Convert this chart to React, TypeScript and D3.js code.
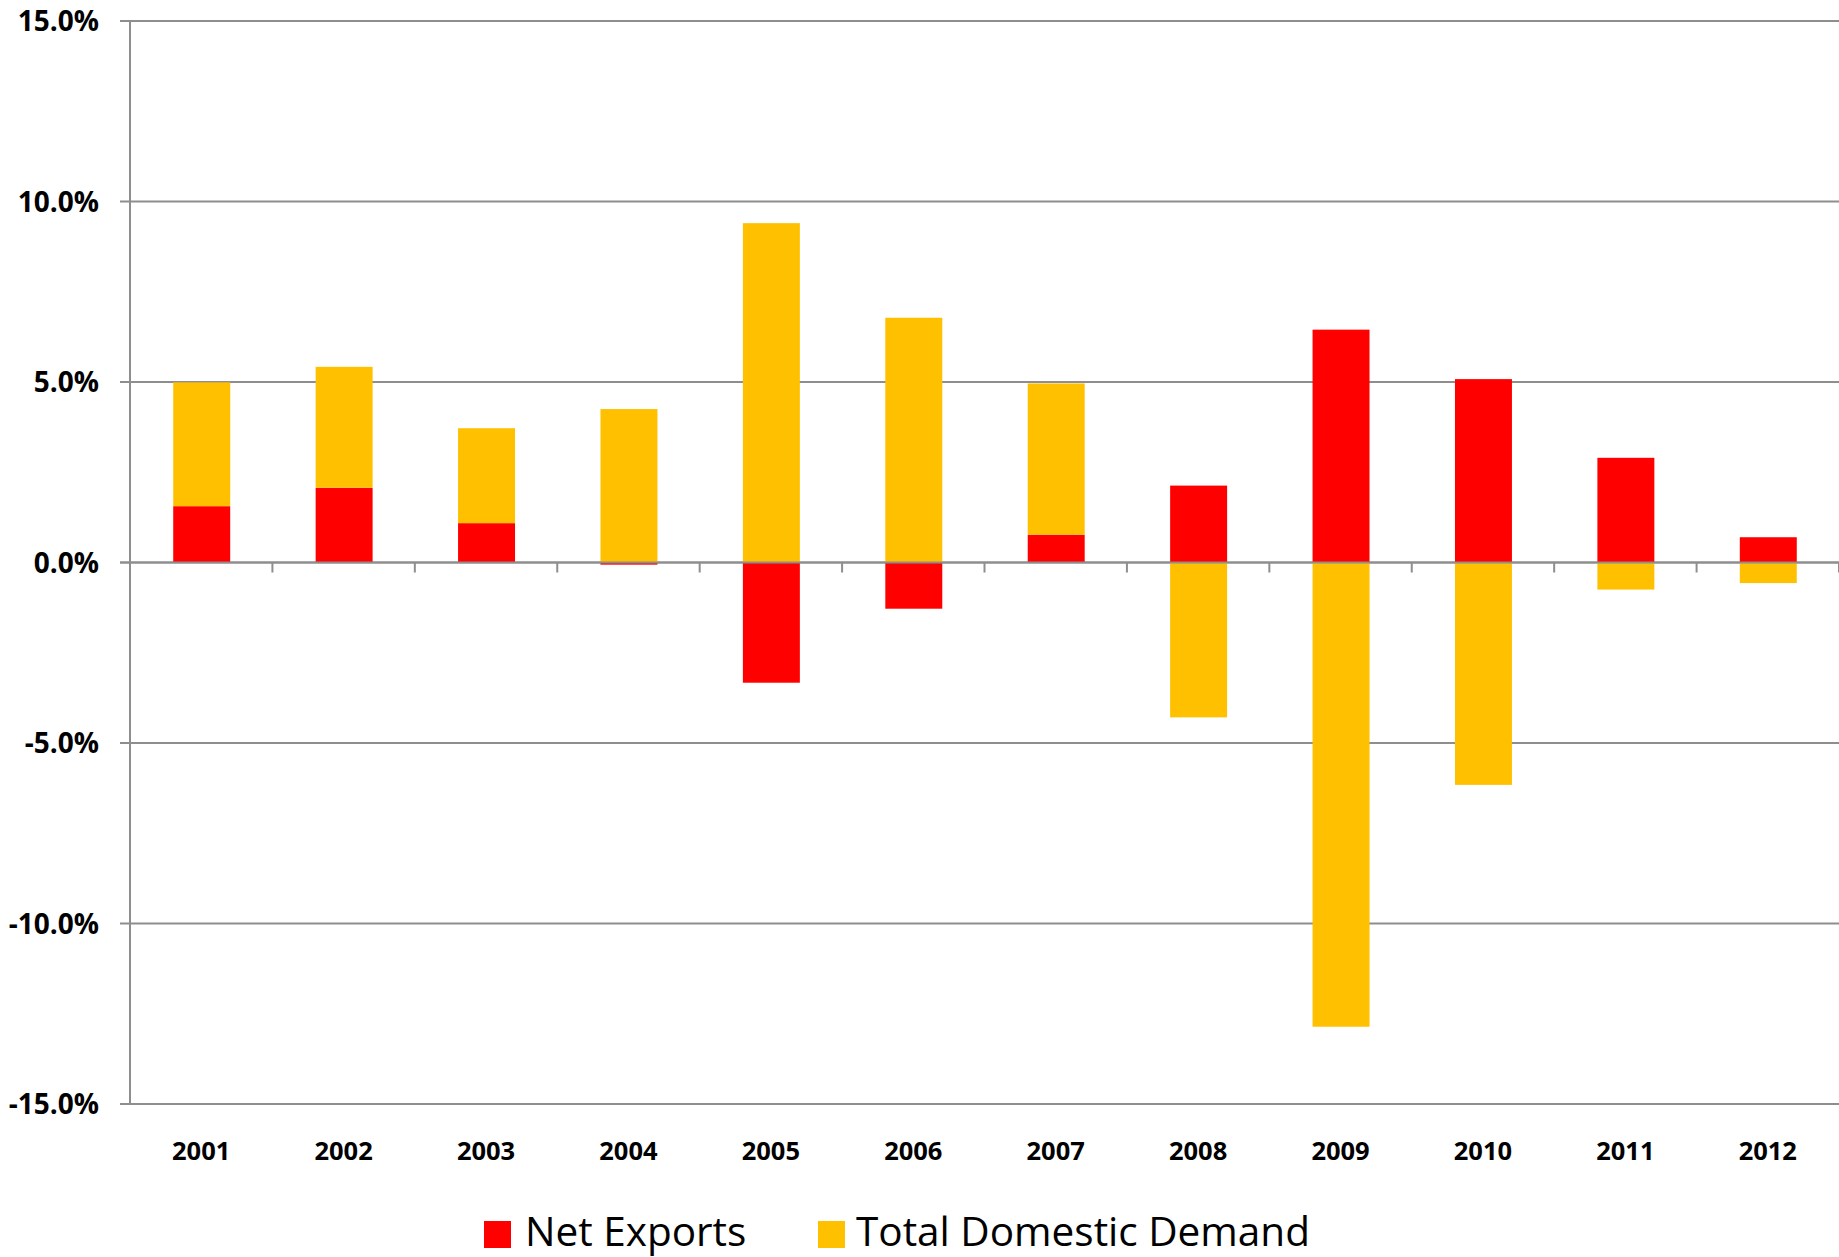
import React from "react";
import * as d3 from "d3";

const years = ["2001", "2002", "2003", "2004", "2005", "2006", "2007", "2008", "2009", "2010", "2011", "2012"];
const netExports = [1.56, 2.07, 1.09, -0.06, -3.33, -1.28, 0.77, 2.13, 6.45, 5.08, 2.9, 0.7];
const domesticDemand = [3.43, 3.35, 2.63, 4.25, 9.4, 6.78, 4.19, -4.29, -12.86, -6.16, -0.75, -0.57];
const yTicks = [-15, -10, -5, 0, 5, 10, 15];
const seriesNames = ["Net Exports", "Total Domestic Demand"];
const seriesColors = ["#FF0000", "#FFC000"];

const W = 1839;
const H = 1257;
const left = 130;
const right = 1839;
const top = 21;
const bottom = 1104;
const gridColor = "#8E8E8E";
const font = "'Open Sans', 'DejaVu Sans', sans-serif";

export default function App() {
  const rows = years.map((y, i) => ({ year: y, ne: netExports[i], dd: domesticDemand[i] }));
  const stack = d3.stack<any>().keys(["ne", "dd"]).offset(d3.stackOffsetDiverging);
  const series = stack(rows);

  const x = d3.scaleBand<string>().domain(years).range([left, right]).paddingInner(0.6).paddingOuter(0.3);
  const y = d3.scaleLinear().domain([-15, 15]).range([bottom, top]);
  const step = x.step();
  const y0 = y(0);

  const fmt = (v: number) => (v < 0 ? "-" : "") + Math.abs(v).toFixed(1) + "%";

  const boundaries = years.map((yr) => (x(yr) as number) - step * 0.3).concat([right]);

  return (
    <svg width={W} height={H} style={{ position: "absolute", left: 0, top: 0, background: "#fff" }}>
      {yTicks.map((t) => (
        <line key={"g" + t} x1={left - 10} x2={right} y1={y(t)} y2={y(t)} stroke={gridColor} strokeWidth={2} />
      ))}
      <line x1={left} x2={left} y1={top} y2={bottom} stroke={gridColor} strokeWidth={2} />
      {yTicks.map((t) => (
        <text
          key={"l" + t}
          x={99}
          y={y(t) + 10}
          textAnchor="end"
          fontFamily={font}
          fontWeight={700}
          fontSize={28}
          fill="#000"
        >
          {fmt(t)}
        </text>
      ))}
      {series.map((s, si) => (
        <g key={s.key} fill={seriesColors[si]}>
          {s.map((d, i) => {
            const ya = y(d[0]);
            const yb = y(d[1]);
            return (
              <rect
                key={i}
                x={(x(years[i]) as number) + 0.5}
                width={x.bandwidth()}
                y={Math.min(ya, yb)}
                height={Math.abs(ya - yb)}
              />
            );
          })}
        </g>
      ))}
      <line x1={left - 10} x2={right} y1={y0} y2={y0} stroke={gridColor} strokeWidth={2} />
      {boundaries.slice(1).map((bx, i) => (
        <line key={"t" + i} x1={bx} x2={bx} y1={y0} y2={y0 + 10} stroke={gridColor} strokeWidth={2} />
      ))}
      {years.map((yr) => (
        <text
          key={"x" + yr}
          x={(x(yr) as number) + x.bandwidth() / 2}
          y={1160}
          textAnchor="middle"
          fontFamily={font}
          fontWeight={700}
          fontSize={25.5}
          fill="#000"
        >
          {yr}
        </text>
      ))}
      <g>
        <rect x={484} y={1221} width={27} height={27} fill={seriesColors[0]} />
        <text x={525} y={1246} fontFamily={font} fontSize={40.5} fill="#000">
          {seriesNames[0]}
        </text>
        <rect x={818} y={1221} width={27} height={27} fill={seriesColors[1]} />
        <text x={856} y={1246} fontFamily={font} fontSize={40.5} fill="#000">
          {seriesNames[1]}
        </text>
      </g>
    </svg>
  );
}
